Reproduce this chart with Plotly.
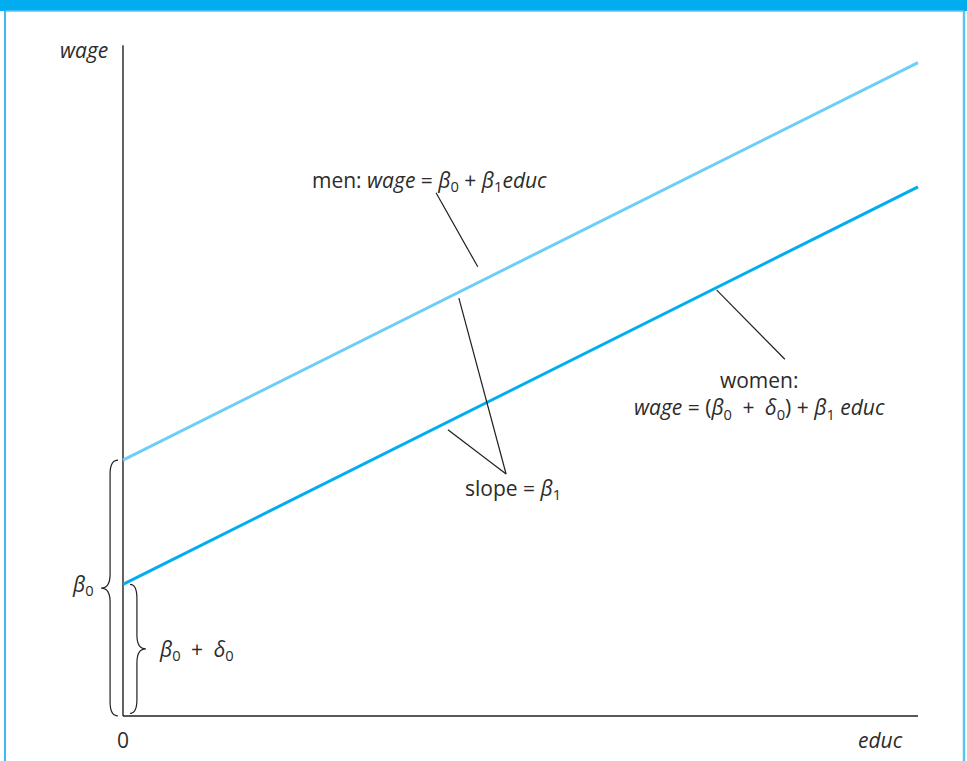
import numpy as np
import plotly.graph_objects as go

# model (in plot units)
educ = [0, 16]
beta0 = 5.15
delta0 = -2.5
beta1 = 0.5
wage_top = 13.5

men_wage = [beta0 + beta1 * e for e in educ]
women_wage = [beta0 + delta0 + beta1 * e for e in educ]

MEN_COL = "#6DCFF6"
WOMEN_COL = "#00AEEF"
INK = "#231F20"
TXT = "#2B2B2B"
FONT = "Open Sans"

fig = go.Figure()
# axes drawn as lines so text/braces may sit outside them
fig.add_trace(go.Scatter(x=[0, 0], y=[0, wage_top], mode="lines",
                         line=dict(color=INK, width=1.4), hoverinfo="skip"))
fig.add_trace(go.Scatter(x=[0, educ[-1]], y=[0, 0], mode="lines",
                         line=dict(color=INK, width=1.4), hoverinfo="skip"))
fig.add_trace(go.Scatter(x=educ, y=men_wage, mode="lines",
                         line=dict(color=MEN_COL, width=3), hoverinfo="skip"))
fig.add_trace(go.Scatter(x=educ, y=women_wage, mode="lines",
                         line=dict(color=WOMEN_COL, width=3), hoverinfo="skip"))


def brace(y0, y1, xm, xe, xt, r=0.28):
    # curly brace spanning y0..y1, ends curl toward xe, tip points to xt
    ym = (y0 + y1) / 2
    return (f"M {xe},{y1} Q {xm},{y1} {xm},{y1 - r} L {xm},{ym + r} "
            f"Q {xm},{ym} {xt},{ym} Q {xm},{ym} {xm},{ym - r} "
            f"L {xm},{y0 + r} Q {xm},{y0} {xe},{y0}")


shapes = [
    # header band and frame
    dict(type="rect", xref="paper", yref="paper", x0=0, x1=1, y0=0.9855, y1=1,
         fillcolor="#00AEEF", line_width=0, layer="above"),
    dict(type="line", xref="paper", yref="paper", x0=0.0052, x1=0.9969, y0=0.9855, y1=0.9855,
         line=dict(color="#5BC5F2", width=1.5)),
    dict(type="line", xref="paper", yref="paper", x0=0.0052, x1=0.0052, y0=0.9855, y1=0,
         line=dict(color="#3DB9EE", width=2)),
    dict(type="line", xref="paper", yref="paper", x0=0.9969, x1=0.9969, y0=0.9855, y1=0,
         line=dict(color="#5BC5F2", width=2.5)),
    # leader lines
    dict(type="line", x0=6.30, y0=10.53, x1=7.14, y1=9.04, line=dict(color=INK, width=1.2)),
    dict(type="line", x0=6.76, y0=8.41, x1=7.71, y1=4.87, line=dict(color=INK, width=1.2)),
    dict(type="line", x0=6.54, y0=5.76, x1=7.71, y1=4.87, line=dict(color=INK, width=1.2)),
    dict(type="line", x0=11.95, y0=8.57, x1=13.32, y1=7.18, line=dict(color=INK, width=1.2)),
    # braces
    dict(type="path", path=brace(0, beta0, -0.26, -0.1, -0.44), line=dict(color=INK, width=1.2)),
    dict(type="path", path=brace(0.05, beta0 + delta0, 0.28, 0.14, 0.46), line=dict(color=INK, width=1.2)),
]

b0 = "<i>β</i><sub>0</sub>"
b1 = "<i>β</i><sub>1</sub>"
d0 = "<i>δ</i><sub>0</sub>"
sp = "\u2002"

ann = [
    dict(x=-0.262, y=13.40, text="<i>wage</i>", xanchor="right"),
    dict(x=0, y=-0.483, text="0", xanchor="center"),
    dict(x=15.74, y=-0.483, text="<i>educ</i>", xanchor="right"),
    dict(x=3.763, y=10.767, text=f"men: <i>wage</i> = {b0} + {b1}<i>educ</i>", xanchor="left"),
    dict(x=7.85, y=4.569, text=f"slope = {b1}", xanchor="center"),
    dict(x=12.80, y=6.47,
         text=f"women:<br><i>wage</i> = ({b0}{sp}+{sp}{d0}) + {b1} <i>educ</i>",
         xanchor="center", align="center"),
    dict(x=-0.543, y=2.636, text=b0, xanchor="right"),
    dict(x=0.684, y=1.328, text=f"{b0}{sp}+{sp}{d0}", xanchor="left"),
]
for a in ann:
    a.update(showarrow=False, yanchor="middle", font=dict(family=FONT, size=21, color=TXT))

fig.update_layout(
    width=967, height=761,
    margin=dict(l=0, r=0, t=0, b=0),
    paper_bgcolor="white", plot_bgcolor="white",
    showlegend=False,
    shapes=shapes, annotations=ann,
    xaxis=dict(range=[-2.4755, 16.9862], visible=False),
    yaxis=dict(range=[-0.9057, 14.4101], visible=False),
)

fig.write_html("out.html", config={"displayModeBar": False},
               post_script="document.body.style.margin='0';")
